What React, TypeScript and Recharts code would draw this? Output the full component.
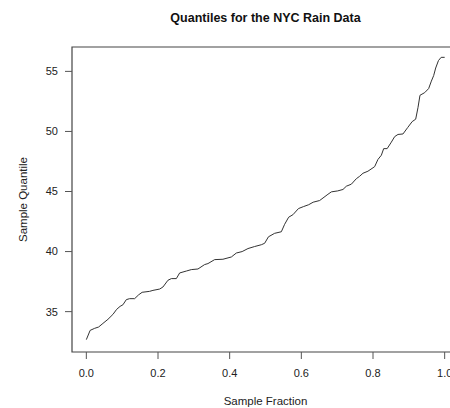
import React from "react";
import { LineChart, Line, XAxis, YAxis, ReferenceArea } from "recharts";

// Sample fraction (x) and sample quantile (y) for the NYC rain data
const fractions = [
  0.0, 0.0106, 0.0232, 0.0343, 0.0463, 0.0603, 0.0742, 0.0846, 0.0943, 0.1021,
  0.1116, 0.1208, 0.1348, 0.146, 0.1557, 0.1767, 0.1859, 0.2046, 0.2138, 0.2277,
  0.2372, 0.2512, 0.2604, 0.2791, 0.293, 0.3115, 0.3302, 0.3394, 0.3581, 0.3812,
  0.4047, 0.4186, 0.4348, 0.451, 0.4697, 0.4884, 0.4976, 0.5082, 0.5255, 0.5442,
  0.5534, 0.5646, 0.5766, 0.592, 0.6065, 0.6204, 0.633, 0.6511, 0.6743, 0.6838,
  0.7014, 0.7162, 0.7256, 0.7396, 0.7536, 0.7628, 0.772, 0.7859, 0.8046, 0.8138,
  0.8233, 0.8298, 0.8395, 0.8512, 0.8605, 0.8697, 0.8836, 0.8967, 0.9093, 0.9191,
  0.9255, 0.9311, 0.9442, 0.9553, 0.9629, 0.9693, 0.9749, 0.9827, 0.9902, 1.0,
];

const quantiles = [
  32.67, 33.44, 33.61, 33.72, 34.02, 34.36, 34.77, 35.19, 35.44, 35.57,
  36.0, 36.08, 36.08, 36.4, 36.61, 36.69, 36.77, 36.88, 37.05, 37.61,
  37.75, 37.75, 38.22, 38.38, 38.5, 38.55, 38.92, 39.0, 39.33, 39.36,
  39.55, 39.88, 40.0, 40.25, 40.42, 40.57, 40.69, 41.23, 41.52, 41.65,
  42.27, 42.86, 43.07, 43.58, 43.75, 43.9, 44.11, 44.25, 44.77, 44.97,
  45.05, 45.17, 45.44, 45.61, 46.07, 46.27, 46.52, 46.69, 47.07, 47.67,
  48.02, 48.57, 48.57, 49.11, 49.57, 49.75, 49.79, 50.32, 50.82, 51.02,
  51.98, 53.01, 53.23, 53.57, 54.19, 54.65, 55.28, 55.9, 56.17, 56.17,
];

const xTicks = [0, 0.2, 0.4, 0.6, 0.8, 1.0];
const yTicks = [35, 40, 45, 50, 55];

const xDomain: [number, number] = [-0.04, 1.04];
const yDomain: [number, number] = [31.64, 57.03];

const data = fractions.map((f, i) => ({ fraction: f, quantile: quantiles[i] }));

const font = "'Liberation Sans', Arial, Helvetica, sans-serif";
const tickStyle = { fontSize: 11, fill: "#222", fontFamily: font };

export default function App() {
  return (
    <div
      style={{
        position: "absolute",
        left: 0,
        top: 0,
        width: 450,
        height: 408,
        overflow: "hidden",
        background: "#fff",
      }}
    >
      <div
        style={{
          position: "absolute",
          left: 0,
          top: 10,
          width: 531,
          textAlign: "center",
          fontFamily: font,
          fontWeight: "bold",
          fontSize: 12.5,
          color: "#111",
          lineHeight: "16px",
        }}
      >
        Quantiles for the NYC Rain Data
      </div>
      <LineChart
        width={470}
        height={408}
        data={data}
        margin={{ top: 47, right: 11, bottom: 0, left: 12 }}
      >
        <XAxis
          dataKey="fraction"
          type="number"
          domain={xDomain}
          ticks={xTicks}
          tickFormatter={(v: number) => v.toFixed(1)}
          axisLine={false}
          tickSize={7}
          tickMargin={10}
          tick={tickStyle}
          tickLine={{ stroke: "#555" }}
          height={56}
          interval={0}
          label={{
            value: "Sample Fraction",
            position: "insideBottom",
            offset: 3,
            style: { fontSize: 11.5, fill: "#222", fontFamily: font },
          }}
        />
        <YAxis
          type="number"
          domain={yDomain}
          ticks={yTicks}
          axisLine={false}
          tickSize={7}
          tickMargin={7}
          tick={tickStyle}
          tickLine={{ stroke: "#555" }}
          width={60}
          interval={0}
          label={{
            value: "Sample Quantile",
            angle: -90,
            position: "insideLeft",
            offset: 11,
            style: { textAnchor: "middle", fontSize: 11.5, fill: "#222", fontFamily: font },
          }}
        />
        <ReferenceArea
          x1={xDomain[0]}
          x2={xDomain[1]}
          y1={yDomain[0]}
          y2={yDomain[1]}
          fill="none"
          fillOpacity={0}
          stroke="#444"
          strokeWidth={1.2}
        />
        <Line
          type="linear"
          dataKey="quantile"
          stroke="#333"
          strokeWidth={1}
          dot={false}
          isAnimationActive={false}
        />
      </LineChart>
    </div>
  );
}
